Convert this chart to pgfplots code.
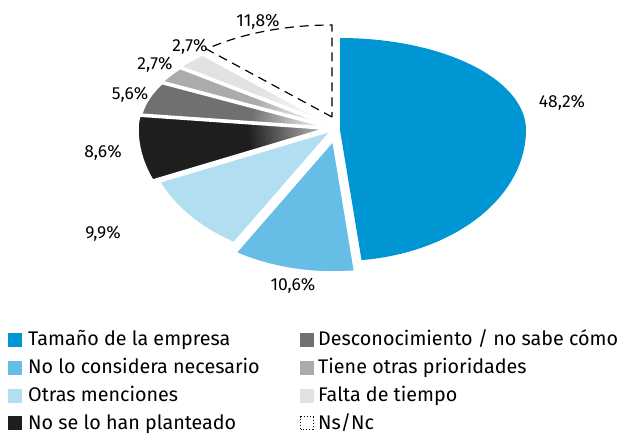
\documentclass[border=0pt]{standalone}
\usepackage{pgfplots}
\pgfplotsset{compat=1.18}
\usepackage{pgfplotstable}
\usepackage{fontspec}
\setmainfont{Fira Sans}

\definecolor{pc0}{HTML}{0096D4}
\definecolor{pc1}{HTML}{66BEE6}
\definecolor{pc2}{HTML}{B2DEF2}
\definecolor{pc3}{HTML}{1E1E1E}
\definecolor{pc4}{HTML}{707070}
\definecolor{pc5}{HTML}{ABABAB}
\definecolor{pc6}{HTML}{E2E2E2}

\pgfdeclareradialshading{fade3}{\pgfpoint{0bp}{0bp}}{color(0bp)=(white!70!pc3); color(10bp)=(pc3); color(50bp)=(pc3)}
\pgfdeclareradialshading{fade4}{\pgfpoint{0bp}{0bp}}{color(0bp)=(white); color(10bp)=(pc4); color(50bp)=(pc4)}
\pgfdeclareradialshading{fade5}{\pgfpoint{0bp}{0bp}}{color(0bp)=(white); color(10bp)=(pc5); color(50bp)=(pc5)}
\pgfdeclareradialshading{fade6}{\pgfpoint{0bp}{0bp}}{color(0bp)=(white); color(10bp)=(pc6); color(50bp)=(pc6)}

% percentages (clockwise from the top) and explode offsets (px)
\pgfplotstableread{
label value dx dy
A 48.2 8 -2
B 10.6 1 -13
C 9.9 -1 -3
D 8.6 -8 -1
E 5.6 -6 1
F 2.7 -5 3
G 2.7 -4 5
H 11.8 0 11
}\piedata

\def\total{0}%
\pgfplotsforeachungrouped \i in {0,...,7}{%
  \pgfplotstablegetelem{\i}{value}\of\piedata
  \pgfmathsetmacro\total{\total+\pgfplotsretval}%
}%
\def\cum{0}%
\pgfplotsforeachungrouped \i in {0,...,7}{%
  \pgfplotstablegetelem{\i}{value}\of\piedata \let\v\pgfplotsretval
  \pgfplotstablegetelem{\i}{dx}\of\piedata \expandafter\let\csname pdx\i\endcsname\pgfplotsretval
  \pgfplotstablegetelem{\i}{dy}\of\piedata \expandafter\let\csname pdy\i\endcsname\pgfplotsretval
  \pgfmathsetmacro\a{90-(\cum/\total)*360}%
  \expandafter\let\csname pa\i\endcsname\a
  \pgfmathsetmacro\cum{\cum+\v}%
  \pgfmathsetmacro\b{90-(\cum/\total)*360}%
  \expandafter\let\csname pb\i\endcsname\b
}%

\newcommand\slicepath[1]{({332+\csname pdx#1\endcsname},{306+\csname pdy#1\endcsname})
   -- plot[domain=\csname pa#1\endcsname:\csname pb#1\endcsname,samples=70,variable=\t]
   ({332+\csname pdx#1\endcsname+186*cos(\t)},{306+\csname pdy#1\endcsname+sin(\t)*(sin(\t)>0?92:131)})
   -- cycle}
\newcommand\shadedslice[1]{%
  \begin{scope}
  \clip \slicepath{#1};
  \shade[shading=fade#1] ({332+\csname pdx#1\endcsname},{306+\csname pdy#1\endcsname}) circle[radius=190];
  \end{scope}
  \draw[white, line width=1.5pt] \slicepath{#1};}

\begin{document}
\begin{tikzpicture}
\begin{axis}[
  width=622bp, height=434bp, scale only axis,
  xmin=0, xmax=622, ymin=0, ymax=434,
  hide axis, clip=false, disabledatascaling,
]
\path (0,0) rectangle (622,434);
\fill[pc0] \slicepath{0};
\filldraw[fill=pc1, draw=white, line width=1.5pt] \slicepath{1};
\filldraw[fill=pc2, draw=white, line width=1.5pt] \slicepath{2};
\shadedslice{3}
\shadedslice{4}
\shadedslice{5}
\shadedslice{6}
\draw[black, line width=1.2pt, dash pattern=on 9pt off 6pt] \slicepath{7};

\begin{scope}[every node/.style={font=\fontsize{17.5}{19}\selectfont, inner sep=0}]
\node at (562,331) {48,2\%};
\node at (293,148) {10,6\%};
\node at (103,200) {9,9\%};
\node at (103,281) {8,6\%};
\node at (130,339) {5,6\%};
\node at (155,369) {2,7\%};
\node at (190,387) {2,7\%};
\node at (258,412) {11,8\%};
\end{scope}

\begin{scope}[every node/.style={font=\fontsize{19.8}{22}\selectfont, inner sep=0, anchor=base west}]
\fill[pc0] (8,87) rectangle (22,101);   \node at (28,88) {Tamaño de la empresa};
\fill[pc1] (8,59) rectangle (22,73);    \node at (28,60) {No lo considera necesario};
\fill[pc2] (8,31) rectangle (22,45);    \node at (28,32) {Otras menciones};
\fill[pc3] (8,4) rectangle (22,18);     \node at (28,5) {No se lo han planteado};
\fill[pc4] (300,87) rectangle (314,101); \node at (318,88) {Desconocimiento / no sabe cómo};
\fill[pc5] (300,59) rectangle (314,73);  \node at (318,60) {Tiene otras prioridades};
\fill[pc6] (300,31) rectangle (314,45);  \node at (318,32) {Falta de tiempo};
\draw[black, line width=1.2pt, dotted] (300.6,4.6) rectangle (313.4,17.4); \node at (318,5) {Ns/Nc};
\end{scope}
\end{axis}
\end{tikzpicture}
\end{document}
